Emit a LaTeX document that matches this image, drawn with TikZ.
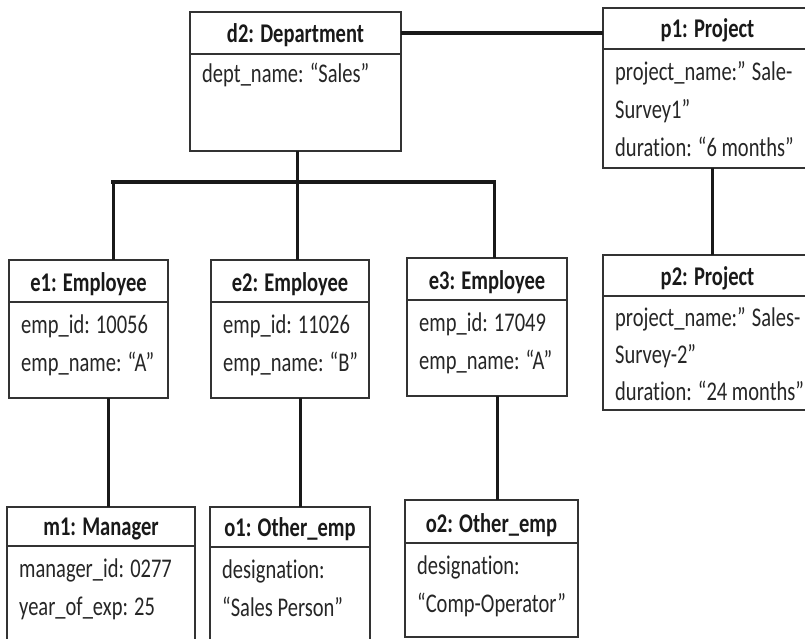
\documentclass[tikz,border=0pt]{standalone}
\usepackage{fontspec}
\setmainfont{Carlito}[FakeStretch=0.76, Ligatures=NoCommon]

% An object box: name, left, top, right, bottom, header-rule y, title
\newcommand\umlobj[7]{%
  \node[objframe, minimum width={#4-#2}, minimum height={#5-#3}] (#1) at (#2,#3) {};
  \draw[objrule] (#2,#6) -- (#4,#6);
  \node[objtitle] (#1-t) at ({(#2+#4)/2},{#6-11}) {#7};
}
% One attribute line: node name, x, baseline y, text
\newcommand\umlattr[4]{\node[objattr] (#1) at (#2,#3) {#4};}

\begin{document}
\begin{tikzpicture}[x=1pt,y=-1pt,
  objframe/.style={draw=black!80, line width=1.2pt, inner sep=0pt, outer sep=0pt, anchor=north west},
  objrule/.style={draw=black!80, line width=1.2pt},
  objtitle/.style={font=\fontsize{27}{30}\selectfont\bfseries, anchor=base, inner sep=0pt, text=black!90},
  objattr/.style={font=\fontsize{27}{30}\selectfont, anchor=base west, inner sep=0pt, text=black!85},
  link/.style={draw=black!90, line width=3pt},
  heavylink/.style={draw=black!90, line width=4.5pt}]

\fill[white] (0,0) rectangle (805,639);
\useasboundingbox (0,0) rectangle (805,639);

% Objects
\umlobj{d2}{190}{12}{401}{151}{54}{d2: Department}
\umlattr{d2a}{202}{83}{dept\_name: “Sales”}

\umlobj{p1}{603}{8}{812}{168}{49}{p1: Project}
\umlattr{p1a}{615}{81}{project\_name:” Sale-}
\umlattr{p1b}{615}{119}{Survey1”}
\umlattr{p1c}{615}{157}{duration: “6 months”}

\umlobj{p2}{603}{255}{812}{410}{296}{p2: Project}
\umlattr{p2a}{615}{326}{project\_name:” Sales-}
\umlattr{p2b}{615}{363}{Survey-2”}
\umlattr{p2c}{615}{400}{duration: “24 months”}

\umlobj{e1}{9}{260}{168}{398}{302}{e1: Employee}
\umlattr{e1a}{21}{333}{emp\_id: 10056}
\umlattr{e1b}{21}{371}{emp\_name: “A”}

\umlobj{e2}{211}{260}{369}{398}{302}{e2: Employee}
\umlattr{e2a}{223}{333}{emp\_id: 11026}
\umlattr{e2b}{223}{371}{emp\_name: “B”}

\umlobj{e3}{407}{258}{567}{396}{300}{e3: Employee}
\umlattr{e3a}{419}{331}{emp\_id: 17049}
\umlattr{e3b}{419}{369}{emp\_name: “A”}

\umlobj{m1}{7}{507}{195}{650}{546}{m1: Manager}
\umlattr{m1a}{19}{577}{manager\_id: 0277}
\umlattr{m1b}{19}{615}{year\_of\_exp: 25}

\umlobj{o1}{210}{507}{370}{650}{547}{o1: Other\_emp}
\umlattr{o1a}{222}{578}{designation:}
\umlattr{o1b}{222}{616}{“Sales Person”}

\umlobj{o2}{405}{500}{578}{637}{543}{o2: Other\_emp}
\umlattr{o2a}{417}{574}{designation:}
\umlattr{o2b}{417}{612}{“Comp-Operator”}

% Connectors
\coordinate (busL) at (113,182);
\coordinate (busM) at (297,182);
\coordinate (busR) at (494,182);

\draw[heavylink] (d2.east |- 0,33) -- (p1.west |- 0,33);
\draw[link] (d2.south -| busM) -- (busM);
\draw[heavylink, line cap=rect] (busL) -- (busR);
\draw[link] (busL) -- (e1.north -| busL);
\draw[link] (busM) -- (e2.north -| busM);
\draw[link] (busR) -- (e3.north -| busR);

\draw[link] (e1.south -| 108,0) -- (m1.north -| 108,0);
\draw[link] (e2.south -| 300,0) -- (o1.north -| 300,0);
\draw[link] (e3.south -| 497,0) -- (o2.north -| 497,0);
\draw[link] (p1.south -| 712,0) -- (p2.north -| 712,0);
\end{tikzpicture}
\end{document}
